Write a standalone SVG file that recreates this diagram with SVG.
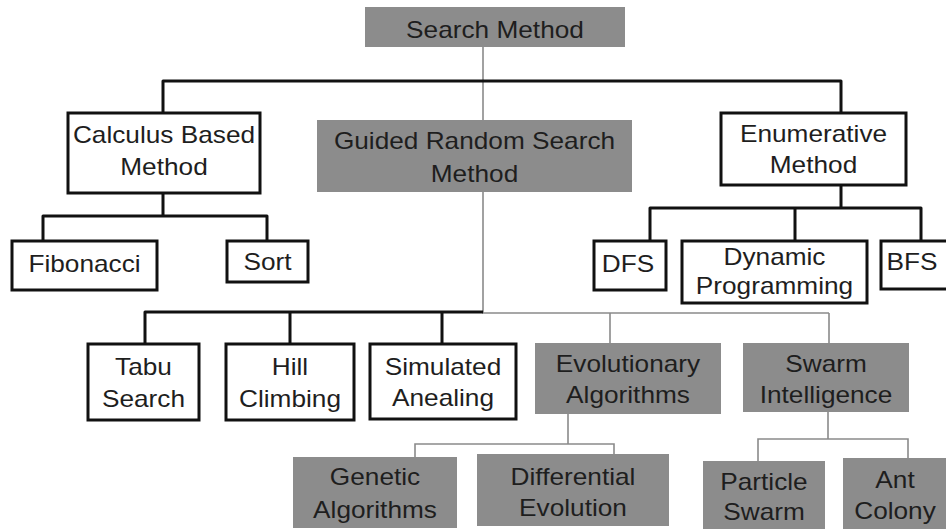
<svg xmlns="http://www.w3.org/2000/svg" width="946" height="529" viewBox="0 0 946 529">
<style>
.w{fill:#fff;stroke:#111;stroke-width:3}
.g{fill:#8c8c8c;stroke:none}
.t{font-family:"Liberation Sans",Arial,sans-serif;font-size:23px;fill:#1e1e1e;text-anchor:middle}
.bk{fill:none;stroke:#111;stroke-width:3;stroke-linejoin:round}
.gr{fill:none;stroke:#8a8a8a;stroke-width:1.6}
</style>
<rect width="946" height="529" fill="#fff"/>
<g id="connectors">
<path class="gr" d="M483 47V120M483 192V313H829M610 313V343M829 313V343"/>
<path class="gr" d="M568 414V444M415 457V444H614V454"/>
<path class="gr" d="M828 412V439M758 461V439H908V458"/>
<path class="bk" d="M163 113V81H841V113"/>
<path class="bk" d="M163 193V216M43 241V216H267V241"/>
<path class="bk" d="M841 185V208M650 241V208H921V241M795 208V241"/>
<path class="bk" d="M145 344V312H483M290 312V344M442 312V344"/>
</g>
<g id="search-method"><rect class="g" x="365" y="7" width="260" height="40"/>
<g transform="translate(495,0) scale(1.14,1)"><text class="t" x="0" y="38">Search Method</text></g></g>
<g id="calculus"><rect class="w" x="68" y="113" width="192" height="80"/>
<g transform="translate(164,0) scale(1.14,1)"><text class="t" x="0" y="143">Calculus Based</text><text class="t" x="0" y="175">Method</text></g></g>
<g id="guided"><rect class="g" x="317" y="120" width="315" height="72"/>
<g transform="translate(474.5,0) scale(1.14,1)"><text class="t" x="0" y="149">Guided Random Search</text><text class="t" x="0" y="182">Method</text></g></g>
<g id="enumerative"><rect class="w" x="721" y="113" width="185" height="72"/>
<g transform="translate(813.5,0) scale(1.14,1)"><text class="t" x="0" y="142">Enumerative</text><text class="t" x="0" y="173">Method</text></g></g>
<g id="fibonacci"><rect class="w" x="12" y="241" width="145" height="49"/>
<g transform="translate(84.5,0) scale(1.14,1)"><text class="t" x="0" y="272">Fibonacci</text></g></g>
<g id="sort"><rect class="w" x="227" y="241" width="81" height="41"/>
<g transform="translate(267.5,0) scale(1.14,1)"><text class="t" x="0" y="270">Sort</text></g></g>
<g id="dfs"><rect class="w" x="594" y="241" width="72" height="49"/>
<g transform="translate(628,0) scale(1.14,1)"><text class="t" x="0" y="272">DFS</text></g></g>
<g id="dynamic"><rect class="w" x="682" y="241" width="185" height="62"/>
<g transform="translate(774.5,0) scale(1.14,1)"><text class="t" x="0" y="265">Dynamic</text><text class="t" x="0" y="294">Programming</text></g></g>
<g id="bfs"><rect class="w" x="881" y="241" width="70" height="48"/>
<g transform="translate(912,0) scale(1.14,1)"><text class="t" x="0" y="270">BFS</text></g></g>
<g id="tabu"><rect class="w" x="88" y="344" width="111" height="76"/>
<g transform="translate(143.5,0) scale(1.14,1)"><text class="t" x="0" y="375">Tabu</text><text class="t" x="0" y="407">Search</text></g></g>
<g id="hill"><rect class="w" x="226" y="344" width="128" height="76"/>
<g transform="translate(290,0) scale(1.14,1)"><text class="t" x="0" y="375">Hill</text><text class="t" x="0" y="407">Climbing</text></g></g>
<g id="simulated"><rect class="w" x="370" y="344" width="146" height="75"/>
<g transform="translate(443,0) scale(1.14,1)"><text class="t" x="0" y="375">Simulated</text><text class="t" x="0" y="406">Anealing</text></g></g>
<g id="evolutionary"><rect class="g" x="535" y="343" width="186" height="71"/>
<g transform="translate(628,0) scale(1.14,1)"><text class="t" x="0" y="372">Evolutionary</text><text class="t" x="0" y="403">Algorithms</text></g></g>
<g id="swarm"><rect class="g" x="743" y="343" width="166" height="69"/>
<g transform="translate(826,0) scale(1.14,1)"><text class="t" x="0" y="372">Swarm</text><text class="t" x="0" y="403">Intelligence</text></g></g>
<g id="genetic"><rect class="g" x="293" y="457" width="164" height="71"/>
<g transform="translate(375,0) scale(1.14,1)"><text class="t" x="0" y="485">Genetic</text><text class="t" x="0" y="518">Algorithms</text></g></g>
<g id="differential"><rect class="g" x="477" y="454" width="192" height="72"/>
<g transform="translate(573,0) scale(1.14,1)"><text class="t" x="0" y="485">Differential</text><text class="t" x="0" y="516">Evolution</text></g></g>
<g id="particle"><rect class="g" x="703" y="461" width="122" height="70"/>
<g transform="translate(764,0) scale(1.14,1)"><text class="t" x="0" y="490">Particle</text><text class="t" x="0" y="520">Swarm</text></g></g>
<g id="ant"><rect class="g" x="843" y="458" width="110" height="73"/>
<g transform="translate(895,0) scale(1.14,1)"><text class="t" x="0" y="488">Ant</text><text class="t" x="0" y="519">Colony</text></g></g>
</svg>
